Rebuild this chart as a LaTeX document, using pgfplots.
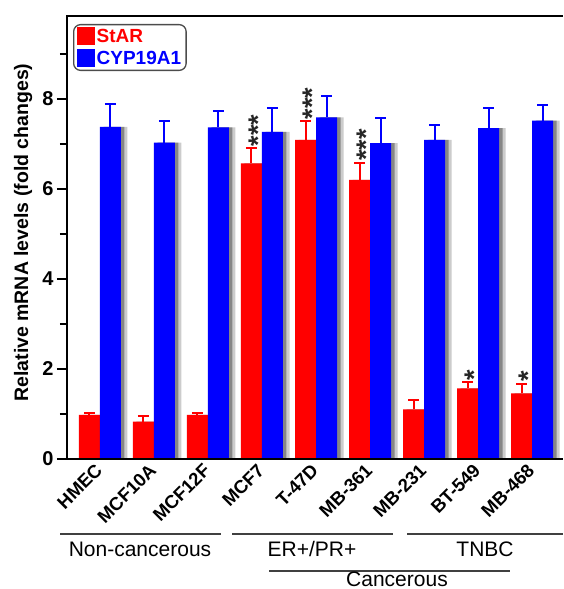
\documentclass[border=0pt]{standalone}
\usepackage{pgfplots}
\pgfplotsset{compat=1.18}
\usepackage{pgfplotstable}
\usepackage{fontspec}
\setmainfont{Liberation Sans}
\definecolor{myred}{RGB}{255,0,0}
\definecolor{myblue}{RGB}{0,0,255}
\definecolor{shadowgray}{RGB}{50,50,50}

\pgfplotstableread{
x y err
0 0.98 0.04
1 0.83 0.12
2 0.98 0.04
3 6.57 0.33
4 7.09 0.41
5 6.20 0.37
6 1.10 0.20
7 1.57 0.13
8 1.46 0.21
}\stardata

\pgfplotstableread{
x y err
0 7.38 0.51
1 7.03 0.47
2 7.37 0.36
3 7.27 0.54
4 7.59 0.47
5 7.02 0.55
6 7.09 0.33
7 7.35 0.46
8 7.52 0.34
}\cypdata

\begin{document}
\begin{tikzpicture}[x=1pt,y=1pt]
\path[use as bounding box] (0,0) rectangle (563,589);
\begin{axis}[
  at={(67pt,130pt)}, anchor=south west,
  scale only axis, width=496pt, height=443pt,
  xmin=-0.611, xmax=8.574, ymin=0, ymax=9.844,
  axis lines*=left,
  axis line style={line width=2.2pt, black, -},
  axis on top,
  ybar, bar width=21pt,
  xtick={0,...,8},
  xticklabels={HMEC,MCF10A,MCF12F,MCF7,T-47D,MB-361,MB-231,BT-549,MB-468},
  xtick style={draw=none},
  xticklabel style={rotate=45, anchor=east, font=\bfseries\fontsize{18.5}{20}\selectfont, xshift=4pt, yshift=2pt},
  ytick={0,2,4,6,8},
  minor ytick={1,3,5,7,9},
  tick align=outside,
  major tick length=10pt, minor tick length=7pt,
  ytick style={line width=2pt, black},
  yticklabel style={font=\bfseries\fontsize{20}{22}\selectfont},
  /pgf/number format/assume math mode=true,
  every axis y label/.style={at={(axis description cs:-0.0887,0.511)}, rotate=90, anchor=center},
  ylabel={Relative mRNA levels (fold changes)},
  ylabel style={font=\bfseries\fontsize{19.5}{22}\selectfont},
  legend style={at={(axis description cs:0.0121,0.982)}, anchor=north west,
    draw=black!70, line width=1.3pt, rounded corners=7pt,
    font=\bfseries\fontsize{19}{22}\selectfont, row sep=3pt,
    inner xsep=3pt, inner ysep=2.5pt},
  legend image code/.code={\fill[#1, sharp corners] (0pt,-8.5pt) rectangle (18pt,9.5pt);},
  legend cell align=left,
]
% shadows (soft, layered)
\addplot[fill=shadowgray, draw=none, opacity=0.25, bar width=23pt, bar shift=16pt, forget plot] table[x=x,y=y] {\cypdata};
\addplot[fill=shadowgray, draw=none, opacity=0.45, bar width=21pt, bar shift=14pt, forget plot] table[x=x,y=y] {\cypdata};
\addplot[fill=shadowgray, draw=none, opacity=0.45, bar width=21pt, bar shift=-7pt, forget plot] table[x=x,y=y] {\stardata};
% bars
\addplot[fill=myred, draw=none, bar shift=-10.5pt,
  error bars/.cd, y dir=plus, y explicit,
  error bar style={line width=2pt, myred},
  error mark options={rotate=90, mark size=5.5pt, line width=2pt, myred}]
  table[x=x,y=y,y error=err] {\stardata};
\addplot[fill=myblue, draw=none, bar shift=10.5pt,
  error bars/.cd, y dir=plus, y explicit,
  error bar style={line width=2pt, myblue},
  error mark options={rotate=90, mark size=5.5pt, line width=2pt, myblue}]
  table[x=x,y=y,y error=err] {\cypdata};
\legend{\textcolor{myred}{StAR},\textcolor{myblue}{CYP19A1}}
% significance marks
\node[xshift=5pt, rotate=90, anchor=base west, inner sep=0pt, font=\bfseries\fontsize{27}{27}\selectfont, text=black!85] at (axis cs:3,6.95) {***};
\node[xshift=5pt, rotate=90, anchor=base west, inner sep=0pt, font=\bfseries\fontsize{27}{27}\selectfont, text=black!85] at (axis cs:4,7.55) {***};
\node[xshift=5pt, rotate=90, anchor=base west, inner sep=0pt, font=\bfseries\fontsize{27}{27}\selectfont, text=black!85] at (axis cs:5,6.62) {***};
\node[xshift=5pt, rotate=90, anchor=base west, inner sep=0pt, font=\bfseries\fontsize{27}{27}\selectfont, text=black!85] at (axis cs:7,1.75) {*};
\node[xshift=5pt, rotate=90, anchor=base west, inner sep=0pt, font=\bfseries\fontsize{27}{27}\selectfont, text=black!85] at (axis cs:8,1.72) {*};
\end{axis}
% top spine
\draw[line width=2.2pt] (66,573) -- (563,573);
% group brackets
\draw[line width=1.4pt, black!75] (60,55) -- (221,55);
\draw[line width=1.4pt, black!75] (232,55) -- (393,55);
\draw[line width=1.4pt, black!75] (407,55) -- (563,55);
\draw[line width=1.4pt, black!75] (269,18) -- (510,18);
\node[anchor=base, font=\fontsize{21}{24}\selectfont] at (140,32) {Non-cancerous};
\node[anchor=base, font=\fontsize{21}{24}\selectfont] at (312,32) {ER+/PR+};
\node[anchor=base, font=\fontsize{21}{24}\selectfont] at (485,32) {TNBC};
\node[anchor=base, font=\fontsize{21}{24}\selectfont] at (397,2) {Cancerous};
\end{tikzpicture}
\end{document}
